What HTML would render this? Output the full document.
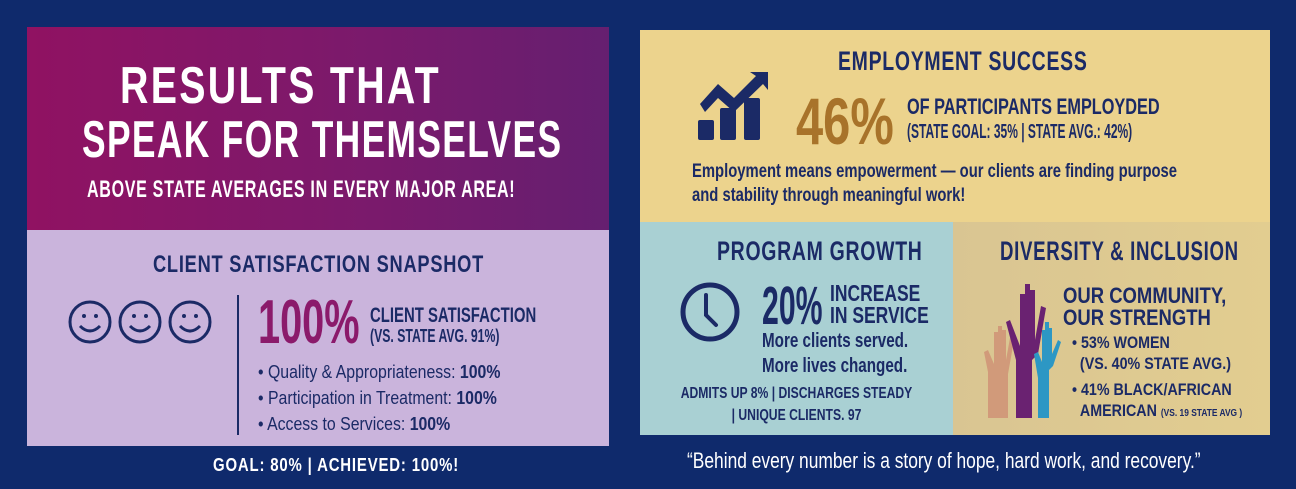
<!DOCTYPE html>
<html><head><meta charset="utf-8"><style>
*{margin:0;padding:0;box-sizing:border-box}
body{width:1296px;height:489px;background:#0f2a6c;position:relative;overflow:hidden;font-family:"Liberation Sans",sans-serif;font-weight:bold;color:#1b2a66}
.a{position:absolute;white-space:nowrap;line-height:1;transform-origin:0 0}
.w{color:#fff}
</style></head><body>
<div class="a" style="left:27px;top:27px;width:582px;height:203px;background:linear-gradient(90deg,#901262,#7a1a6c 60%,#651f70)"></div>
<div class="a" style="left:27px;top:230px;width:582px;height:216px;background:#cab4dc"></div>
<div class="a w" style="left:120px;top:60px;font-size:52px;letter-spacing:3px;transform:scaleX(0.757)">RESULTS THAT</div>
<div class="a w" style="left:82px;top:114px;font-size:52px;letter-spacing:2px;transform:scaleX(0.68)">SPEAK FOR THEMSELVES</div>
<div class="a w" style="left:87px;top:178px;font-size:24px;letter-spacing:1px;transform:scaleX(0.67)">ABOVE STATE AVERAGES IN EVERY MAJOR AREA!</div>
<div class="a" style="left:153px;top:253px;font-size:24px;letter-spacing:1px;transform:scaleX(0.76)">CLIENT SATISFACTION SNAPSHOT</div>
<svg class="a" style="left:66px;top:298px" width="150" height="50" viewBox="0 0 150 50">
<g fill="none" stroke="#1b2a66" stroke-width="3">
<circle cx="24" cy="24" r="20"/><circle cx="74" cy="24" r="20"/><circle cx="124" cy="24" r="20"/>
<path d="M14 28q10 10 20 0M64 28q10 10 20 0M114 28q10 10 20 0"/></g>
<g fill="#1b2a66"><circle cx="18" cy="18" r="2"/><circle cx="30" cy="18" r="2"/><circle cx="68" cy="18" r="2"/><circle cx="80" cy="18" r="2"/><circle cx="118" cy="18" r="2"/><circle cx="130" cy="18" r="2"/></g></svg>
<div class="a" style="left:237px;top:295px;width:2px;height:140px;background:#1b2a66"></div>
<div class="a" style="left:258px;top:292px;font-size:62px;color:#8b1a6b;transform:scaleX(0.64)">100%</div>
<div class="a" style="left:370px;top:305px;font-size:21px;transform:scaleX(0.71)">CLIENT SATISFACTION</div>
<div class="a" style="left:370px;top:327px;font-size:18px;transform:scaleX(0.68)">(VS. STATE AVG. 91%)</div>
<div class="a" style="left:258px;top:363px;font-size:18px;font-weight:normal;transform:scaleX(0.88)">• Quality &amp; Appropriateness: <b>100%</b></div>
<div class="a" style="left:258px;top:389px;font-size:18px;font-weight:normal;transform:scaleX(0.88)">• Participation in Treatment: <b>100%</b></div>
<div class="a" style="left:258px;top:415px;font-size:18px;font-weight:normal;transform:scaleX(0.88)">• Access to Services: <b>100%</b></div>
<div class="a w" style="left:213px;top:456px;font-size:18px;letter-spacing:1px;transform:scaleX(0.83)">GOAL: 80% | ACHIEVED: 100%!</div>

<div class="a" style="left:640px;top:30px;width:630px;height:192px;background:#ecd38d"></div>
<div class="a" style="left:640px;top:222px;width:313px;height:213px;background:#a9d0d3"></div>
<div class="a" style="left:953px;top:222px;width:317px;height:213px;background:linear-gradient(90deg,#d9c592,#e2cd90)"></div>
<div class="a" style="left:838px;top:48px;font-size:27px;letter-spacing:1px;transform:scaleX(0.72)">EMPLOYMENT SUCCESS</div>
<svg class="a" style="left:696px;top:68px" width="76" height="74" viewBox="0 0 76 74">
<g fill="#1b2a66"><rect x="2" y="52" width="16" height="20" rx="2"/><rect x="24" y="40" width="16" height="32" rx="2"/><rect x="48" y="30" width="16" height="42" rx="2"/>
<path d="M4 36l18-20 16 14 22-22-6-4h18v18l-5-6-29 28-16-14-13 14z"/></g></svg>
<div class="a" style="left:796px;top:88px;font-size:66px;color:#a8732a;transform:scaleX(0.74)">46%</div>
<div class="a" style="left:907px;top:96px;font-size:22px;transform:scaleX(0.74)">OF PARTICIPANTS EMPLOYDED</div>
<div class="a" style="left:907px;top:122px;font-size:20px;transform:scaleX(0.6)">(STATE GOAL: 35% | STATE AVG.: 42%)</div>
<div class="a" style="left:692px;top:160px;font-size:19px;line-height:24px;transform:scaleX(0.78)">Employment means empowerment — our clients are finding purpose<br>and stability through meaningful work!</div>
<div class="a" style="left:717px;top:238px;font-size:27px;letter-spacing:1px;transform:scaleX(0.72)">PROGRAM GROWTH</div>
<svg class="a" style="left:679px;top:281px" width="62" height="62" viewBox="0 0 62 62"><circle cx="31" cy="31" r="27" fill="none" stroke="#1b2a66" stroke-width="5"/><path d="M27 14v20l10 10" fill="none" stroke="#1b2a66" stroke-width="4" stroke-linecap="round"/></svg>
<div class="a" style="left:762px;top:279px;font-size:54px;transform:scaleX(0.56)">20%</div>
<div class="a" style="left:830px;top:282px;font-size:23px;line-height:22px;transform:scaleX(0.76)">INCREASE<br>IN SERVICE</div>
<div class="a" style="left:762px;top:329px;font-size:20px;line-height:25px;transform:scaleX(0.76)">More clients served.<br>More lives changed.</div>
<div class="a" style="left:640px;width:313px;text-align:center;top:383px;font-size:16px;line-height:22px;transform:scaleX(0.76);transform-origin:50% 0">ADMITS UP 8% | DISCHARGES STEADY<br>| UNIQUE CLIENTS. 97</div>
<div class="a" style="left:1000px;top:238px;font-size:27px;letter-spacing:1px;transform:scaleX(0.69)">DIVERSITY &amp; INCLUSION</div>
<svg class="a" style="left:982px;top:282px" width="92" height="138" viewBox="0 0 92 138">
<path d="M6 136V90L2 70l4-2 6 14V50h4v26V44h4v32V48h4v30l4-22 4 2-6 34v44z" fill="#d19a7a"/>
<path d="M34 136V78L24 40l4-2 10 26V12h5v46V2h5v56V8h5v50l6-34 5 2-8 46-6 6v58z" fill="#6a2271"/>
<path d="M56 136v-40l-4-24 4-2 4 10V48h3v24V40h4v32V46h3v26l6-14 3 2-8 24-4 4v48z" fill="#2d97c4"/>
</svg>
<div class="a" style="left:1063px;top:285px;font-size:22px;line-height:22px;transform:scaleX(0.84)">OUR COMMUNITY,<br>OUR STRENGTH</div>
<div class="a" style="left:1072px;top:332px;font-size:17px;line-height:21px;transform:scaleX(0.84)">• 53% WOMEN<br>&nbsp;&nbsp;(VS. 40% STATE AVG.)</div>
<div class="a" style="left:1072px;top:379px;font-size:17px;line-height:21px;transform:scaleX(0.84)">• 41% BLACK/AFRICAN<br>&nbsp;&nbsp;AMERICAN <span style="font-size:10px">(VS. 19 STATE AVG )</span></div>
<div class="a w" style="left:687px;top:450px;font-size:22px;font-weight:normal;transform:scaleX(0.79)">“Behind every number is a story of hope, hard work, and recovery.”</div>
</body></html>
